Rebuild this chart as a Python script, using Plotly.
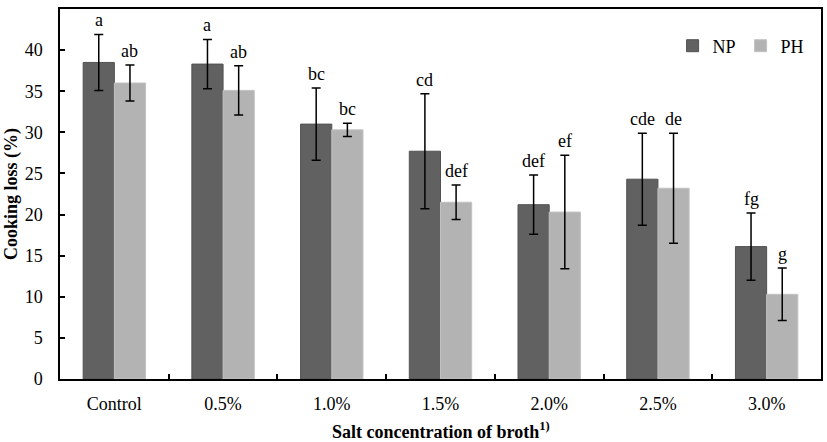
import plotly.graph_objects as go

categories = ["Control", "0.5%", "1.0%", "1.5%", "2.0%", "2.5%", "3.0%"]
np_mean = [38.5, 38.3, 31.0, 27.7, 21.2, 24.3, 16.1]
np_err = [3.4, 3.0, 4.4, 7.0, 3.6, 5.6, 4.1]
ph_mean = [36.0, 35.1, 30.3, 21.5, 20.3, 23.2, 10.3]
ph_err = [2.2, 3.0, 0.8, 2.1, 6.9, 6.7, 3.2]
np_letters = ["a", "a", "bc", "cd", "def", "cde", "fg"]
ph_letters = ["ab", "ab", "bc", "def", "ef", "de", "g"]

FONT = "Liberation Serif, Times New Roman, serif"
W, H = 827, 442
ML, MR, MT, MB = 60, 6, 9, 63
BARGAP = 0.426

fig = go.Figure()
fig.add_trace(go.Bar(
    name="NP", x=categories, y=np_mean,
    marker=dict(color="#616161", line=dict(color="#525252", width=1)),
    error_y=dict(type="data", array=np_err, visible=True, color="black", thickness=1.5, width=4.5),
))
fig.add_trace(go.Bar(
    name="PH", x=categories, y=ph_mean,
    marker=dict(color="#b3b3b3", line=dict(color="#c2c2c2", width=1)),
    error_y=dict(type="data", array=ph_err, visible=True, color="black", thickness=1.5, width=4.5),
))

plot_w = W - ML - MR
plot_h = H - MT - MB
cat_w = plot_w / len(categories)
bar_w = cat_w * (1 - BARGAP) / 2
shift = bar_w / 2

for i, c in enumerate(categories):
    fig.add_annotation(x=c, y=np_mean[i] + np_err[i], text=np_letters[i], showarrow=False,
                       xshift=-shift, yshift=2, yanchor="bottom",
                       font=dict(family=FONT, size=18, color="black"))
    fig.add_annotation(x=c, y=ph_mean[i] + ph_err[i], text=ph_letters[i], showarrow=False,
                       xshift=shift, yshift=2, yanchor="bottom",
                       font=dict(family=FONT, size=18, color="black"))

# axis titles
fig.add_annotation(xref="paper", yref="paper", x=(11 - ML) / plot_w, y=0.5,
                   text="<b>Cooking loss (%)</b>", textangle=-90, showarrow=False,
                   xanchor="center", yanchor="middle",
                   font=dict(family=FONT, size=18, color="black"))
fig.add_annotation(xref="paper", yref="paper", x=0.5, y=-(431 - (H - MB)) / plot_h,
                   text="<b>Salt concentration of broth<sup>1)</sup></b>", showarrow=False,
                   xanchor="center", yanchor="middle",
                   font=dict(family=FONT, size=18, color="black"))

fig.update_layout(
    width=W, height=H,
    margin=dict(l=ML, r=MR, t=MT, b=MB),
    paper_bgcolor="white", plot_bgcolor="white",
    barmode="group", bargap=BARGAP, bargroupgap=0,
    font=dict(family=FONT, size=18, color="black"),
    showlegend=True,
    legend=dict(orientation="h", x=0.985, y=0.9, xanchor="right", yanchor="middle",
                font=dict(family=FONT, size=18, color="black"),
                bgcolor="rgba(0,0,0,0)", itemwidth=30, tracegroupgap=0),
)
fig.update_xaxes(
    type="category", showline=True, linecolor="black", linewidth=1.5, mirror=True,
    ticks="inside", ticklen=5, tickcolor="black", tickwidth=1.5, tickson="boundaries",
    showgrid=False, ticklabelstandoff=8, automargin=False,
)
fig.update_yaxes(
    range=[0, 45], dtick=5, showline=True, linecolor="black", linewidth=1.5, mirror=True,
    ticks="inside", ticklen=5, tickcolor="black", tickwidth=1.5, showgrid=False,
    zeroline=False, ticklabelstandoff=12, automargin=False,
)

fig.write_html("out.html", config={"displayModeBar": False},
               post_script="document.body.style.margin='0';document.body.style.overflow='hidden';")
